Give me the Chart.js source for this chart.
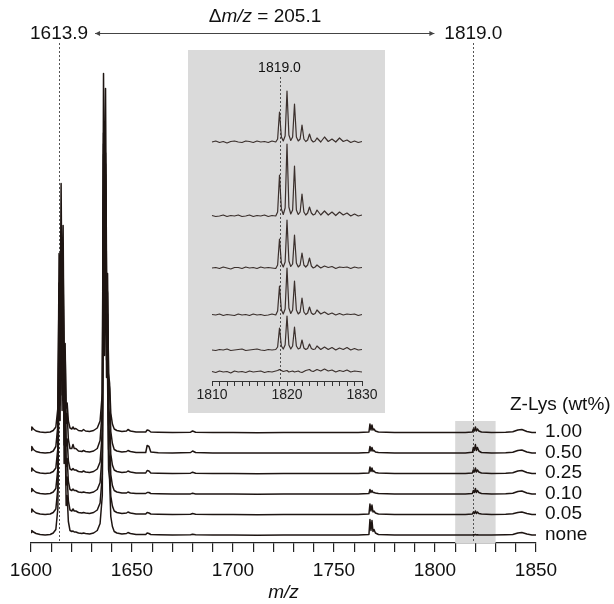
<!DOCTYPE html>
<html>
<head>
<meta charset="utf-8">
<script src="https://cdn.jsdelivr.net/npm/chart.js@4.4.1/dist/chart.umd.min.js"></script>
<style>
  html, body { margin: 0; padding: 0; background: #fff; }
  #wrap { position: relative; width: 614px; height: 604px; }
  #main { position: absolute; left: 0; top: 0; }
  #inset { position: absolute; left: 188px; top: 50px; background: #dadada; }
</style>
</head>
<body>
<div id="wrap">
  <canvas id="main" width="614" height="604"></canvas>
  <canvas id="inset" width="197" height="363"></canvas>
</div>
<script>
// Data - main spectra (m/z grid, intensities per Z-Lys content)
const mzMain = [
  1600, 1600.4, 1601.2, 1602.5, 1604.5, 1607, 1609.5, 1611, 1612.3, 1613.3,
  1613.9, 1614.4, 1614.9, 1615.4, 1615.9, 1616.4, 1616.9, 1617.4, 1617.9, 1618.5,
  1619.3, 1620.2, 1620.8, 1621.4, 1622.2, 1623.5, 1625.2, 1626, 1627, 1629,
  1631, 1632.8, 1634.2, 1635.3, 1635.9, 1636.4, 1636.9, 1637.4, 1637.9, 1638.4,
  1638.9, 1639.5, 1640.3, 1641.2, 1642.5, 1645, 1647.3, 1648, 1649.2, 1652,
  1656.8, 1657.5, 1658.4, 1659.3, 1663, 1670, 1679, 1680, 1681.5, 1690,
  1700, 1712, 1725, 1738, 1752, 1762, 1767.3, 1767.8, 1768.3, 1768.8,
  1769.3, 1769.8, 1770.5, 1772, 1780, 1792, 1805, 1815, 1818.5, 1819,
  1819.5, 1820, 1820.5, 1821, 1821.7, 1823, 1828, 1835, 1838.5, 1841,
  1843, 1845.5, 1848, 1850,
];
const zLys100 = [
  3, 6, 4, 2, 1, 0.5, 1, 2.5, 6, 25,
  150, 90, 200, 100, 170, 60, 80, 25, 30, 12,
  5, 4, 6, 4, 4.5, 2.5, 2, 3.5, 2, 1.5,
  2.5, 5, 12, 40, 300, 170, 280, 150, 140, 60,
  50, 20, 9, 4, 2.5, 1.5, 2, 3.5, 2, 1,
  1, 3, 2.5, 1, 0.8, 0.5, 0.8, 2, 0.8, 0.5,
  0.6, 0.3, 0.5, 0.4, 0.5, 0.6, 1, 9, 3, 8,
  3, 4, 2, 1, 0.5, 0.4, 0.6, 0.5, 1, 4,
  2, 6, 2, 4, 2, 1, 0.6, 0.8, 1.2, 3,
  3.5, 1.5, 0.6, 0.5,
];
const zLys050 = [
  3, 7, 4, 2, 1, 0.5, 1, 2.5, 7, 28,
  200, 120, 270, 130, 228, 75, 110, 30, 40, 14,
  5, 5, 9, 5, 5, 2.5, 2, 3, 2, 1.5,
  2.5, 5, 13, 45, 380, 210, 365, 180, 180, 75,
  65, 22, 10, 4, 2.5, 1.5, 2, 3, 2, 1,
  1, 8, 7, 1.5, 0.8, 0.5, 1, 2.5, 1, 0.5,
  0.6, 0.4, 0.5, 0.4, 0.6, 0.5, 1, 7, 2.5, 6,
  2.5, 3, 1.5, 1, 0.5, 0.4, 0.6, 0.5, 1.2, 6,
  3, 9, 3, 6, 2.5, 1, 0.6, 0.8, 1.2, 3,
  3.5, 1.5, 0.6, 0.5,
];
const zLys025 = [
  3, 6, 4, 2, 1, 0.5, 1, 2.5, 6, 26,
  165, 100, 230, 110, 200, 65, 95, 28, 35, 13,
  5, 4, 5.5, 4, 4, 2.5, 2, 3, 2, 1.5,
  2.5, 5, 12, 42, 330, 185, 310, 160, 160, 68,
  58, 20, 9, 4, 2.5, 1.5, 2, 3, 2, 1,
  1, 3.5, 3, 1, 0.8, 0.5, 0.8, 1.8, 0.8, 0.5,
  0.6, 0.3, 0.5, 0.4, 0.5, 0.6, 1, 7, 2.5, 6,
  2.5, 3, 1.5, 1, 0.5, 0.4, 0.6, 0.5, 1, 4,
  2, 6, 2, 4, 2, 1, 0.6, 0.8, 1.2, 3,
  3.5, 1.5, 0.6, 0.5,
];
const zLys010 = [
  3, 6, 4, 2, 1, 0.5, 1, 2.5, 6, 26,
  175, 105, 240, 115, 210, 68, 100, 28, 36, 13,
  5, 4, 5.5, 4, 4, 2.5, 2, 2.5, 2, 1.5,
  2.5, 5, 12, 42, 340, 190, 320, 165, 165, 70,
  60, 20, 9, 4, 2.5, 1.5, 1.5, 2.5, 1.5, 1,
  1, 2, 2, 1, 0.8, 0.5, 0.6, 1.2, 0.6, 0.5,
  0.6, 0.3, 0.5, 0.4, 0.5, 0.6, 1, 5, 2, 4,
  2, 2, 1.5, 1, 0.5, 0.4, 0.6, 0.5, 1, 4,
  2, 6, 2, 4, 2, 1, 0.6, 0.8, 1.2, 3,
  3.5, 1.5, 0.6, 0.5,
];
const zLys005 = [
  3, 6, 4, 2, 1, 0.5, 1, 2.5, 6, 27,
  180, 110, 250, 120, 220, 70, 105, 30, 38, 14,
  5, 4, 6, 4, 4, 2.5, 2, 2.5, 2, 1.5,
  2.5, 5, 12, 40, 320, 180, 300, 155, 155, 66,
  55, 19, 9, 4, 2.5, 1.5, 2, 3, 2, 1,
  1, 2.5, 2, 1, 0.8, 0.5, 0.8, 1.5, 0.8, 0.5,
  0.6, 0.3, 0.5, 0.4, 0.5, 0.6, 1, 11, 4, 10,
  3, 4, 2, 1, 0.5, 0.4, 0.6, 0.5, 1, 3,
  1.5, 4, 1.5, 3, 1.5, 1, 0.6, 0.8, 1.2, 2.5,
  3, 1.5, 0.6, 0.5,
];
const zLysNone = [
  3, 5, 3.5, 2, 1, 0.5, 1, 2.5, 6, 27,
  190, 115, 260, 125, 228, 72, 108, 30, 40, 14,
  5, 4, 4.5, 3.5, 3.5, 2.5, 2, 2.5, 2, 1.5,
  2.5, 5, 12, 40, 323, 180, 305, 158, 158, 66,
  56, 19, 9, 4, 2.5, 1.5, 2, 3, 2, 1,
  1, 2.5, 2, 1, 0.8, 0.5, 0.8, 1.2, 0.8, 0.5,
  0.6, 0.3, 0.5, 0.4, 0.5, 0.6, 1, 16, 5, 15,
  4, 6, 2.5, 1, 0.5, 0.4, 0.6, 0.5, 0.6, 0.8,
  0.5, 1, 0.5, 0.8, 0.5, 0.6, 0.5, 0.8, 1, 2.5,
  3, 1.5, 0.6, 0.5,
];

// Data - inset, zoom on 1810-1830
const mzInset = [
  1810, 1810.5, 1811, 1811.5, 1812, 1812.5, 1813, 1813.5, 1814, 1814.5,
  1815, 1815.5, 1816, 1816.5, 1817, 1817.5, 1818, 1818.5,
  1818.75, 1819, 1819.25, 1819.5, 1819.75, 1820, 1820.25, 1820.5, 1820.75, 1821,
  1821.25, 1821.5, 1821.75, 1822, 1822.25, 1822.5, 1822.75, 1823, 1823.25, 1823.5,
  1823.75, 1824,
  1824.5, 1825, 1825.5, 1826, 1826.5, 1827, 1827.5, 1828, 1828.5, 1829, 1829.5, 1830,
];
const inset100 = [
  0, 1, -0.5, 0.5, -1, 0.5, 1, 0, -0.5, 1, 0.5, -0.5, 1, 0, 0.5, -0.5, 1, 0,
  3, 30, 5, 1, 6, 51, 7, 1.5, 5, 38, 5, 1, 3, 17, 3, 0.5, 2, 8, 2, 0, 1, 4,
  0, 5, 0.5, 3, 0, 4, 0.5, 2, -0.5, 1, -0.5, 0.5,
];
const inset050 = [
  0.5, -0.5, 0, 1, -0.5, 0.5, 0, 1, -0.5, 0, 1, -0.5, 0.5, 0, 1, -0.5, 0.5, 0,
  4, 41, 7, 1.5, 8, 72, 9, 2, 6, 50, 6, 1.5, 4, 22, 4, 1, 3, 9, 3, 1, 2, 6,
  1, 5, 1, 4, 0.5, 4, 1, 3, 0, 2, 0, 1,
];
const inset025 = [
  0, 0.5, -0.5, 1, 0, -1, 0.5, 0.5, -0.5, 1, 0, 0.5, -0.5, 1, 0, 0.5, 0, -0.5,
  3, 29, 5, 1, 6, 48, 7, 1.5, 4, 33, 5, 1, 3, 15, 3, 1, 3, 10, 2, 0, 1, 3,
  0, 2, 0.5, 1.5, -0.5, 1, 0.5, 1, -0.5, 1, 0, 0.5,
];
const inset010 = [
  0.5, 0, 1, -0.5, 0.5, 0, -0.5, 1, 0, 0.5, -0.5, 1, 0, 0.5, -0.5, 0, 1, 0,
  4, 29, 5, 1, 6, 47, 7, 1.5, 5, 34, 5, 1, 3, 17, 3, 0.5, 2, 8, 2, 0.5, 1.5, 5,
  1, 3, 0.5, 2, 0, 1.5, 0, 1, 0.5, 1, -0.5, 0.5,
];
const inset005 = [
  0, -0.5, 0.5, 0, 1, -0.5, 0, 0.5, 1, -0.5, 0, 0.5, 1, 0, -0.5, 0.5, 0, 0.5,
  3, 22, 4, 1, 5, 34, 5, 1, 4, 23, 4, 1, 2, 10, 2, 0.5, 1.5, 6, 1.5, 0.5, 1, 4,
  0.5, 3, 0.5, 2.5, 0, 2, 0.5, 2.5, 0, 1.5, 0, 0.5,
];
const insetNone = [
  0.5, -0.5, 1, 0, 0.5, -1, 1, 0, 0.5, -0.5, 1, 0, 0.5, 1, -0.5, 0.5, 0, 1,
  1.5, 2.5, 1.5, 0.5, 1, 1.5, 0, 0.5, 1, 0, 0.5, 1, 0, -0.5, 0.5, 1.5, 2, 2.5, 1, 0.5, 1.5, 2.5,
  1, 3, 1, 2, 0, 1.5, 0.5, 2, 0, 1, 0.5, 0,
];

const concLabels = ["1.00", "0.50", "0.25", "0.10", "0.05", "none"];
const mainSeries = [zLys100, zLys050, zLys025, zLys010, zLys005, zLysNone];
const insetSeries = [inset100, inset050, inset025, inset010, inset005, insetNone];
const peakMz = [1613.9, 1819.0];
const peakLabels = ["1613.9", "1819.0"];
const deltaParts = ["\u0394", "m/z", " = 205.1"];
const bandRange = [1810, 1830];

// vertical stacking of the traces (plot units = px)
const mainOffsets = [110, 89.5, 69, 48.5, 28, 7.5];
const insetOffsets = [239, 165, 113, 66, 31, 9];

const FONT = '"Liberation Sans", Arial, Helvetica, sans-serif';
Chart.defaults.font.family = FONT;
Chart.defaults.color = "#111";

function traceSets(xs, series, offsets, color, width) {
  return series.map((vals, i) => ({
    label: concLabels[i],
    data: vals.map((v, j) => ({ x: xs[j], y: v + offsets[i] })),
    borderColor: color,
    borderWidth: width,
    pointRadius: 0,
    tension: 0,
    borderJoinStyle: "round",
    clip: false,
  }));
}

function dotted(ctx, px, y0, y1) {
  ctx.save();
  ctx.strokeStyle = "#555";
  ctx.lineWidth = 1;
  ctx.setLineDash([2, 2]);
  ctx.beginPath();
  ctx.moveTo(Math.round(px) + 0.5, y0);
  ctx.lineTo(Math.round(px) + 0.5, y1);
  ctx.stroke();
  ctx.restore();
}

function arrowHead(ctx, x, y, dir) {
  ctx.beginPath();
  ctx.moveTo(x, y);
  ctx.lineTo(x - dir * 5, y - 2.5);
  ctx.lineTo(x - dir * 5, y + 2.5);
  ctx.closePath();
  ctx.fill();
}

const mainDecor = {
  id: "mainDecor",
  beforeDatasetsDraw(chart) {
    const { ctx, scales: { x, y } } = chart;
    const x0 = x.getPixelForValue(bandRange[0]);
    const x1 = x.getPixelForValue(bandRange[1]);
    ctx.save();
    ctx.fillStyle = "#d9d9d9";
    ctx.fillRect(x0, 421, x1 - x0, y.bottom - 421);
    ctx.restore();
    peakMz.forEach((m) => dotted(ctx, x.getPixelForValue(m), 43, y.bottom));
  },
  afterDraw(chart) {
    const { ctx, scales: { x, y } } = chart;
    ctx.save();
    ctx.fillStyle = "#111";
    ctx.textBaseline = "middle";

    // Δm/z title
    const fonts = ["19px " + FONT, "italic 19px " + FONT, "19px " + FONT];
    let total = 0;
    deltaParts.forEach((t, i) => { ctx.font = fonts[i]; total += ctx.measureText(t).width; });
    let tx = 265 - total / 2;
    deltaParts.forEach((t, i) => {
      ctx.font = fonts[i];
      ctx.fillText(t, tx, 17);
      tx += ctx.measureText(t).width;
    });

    // peak labels
    ctx.font = "19px " + FONT;
    ctx.textAlign = "center";
    const p0 = x.getPixelForValue(peakMz[0]);
    const p1 = x.getPixelForValue(peakMz[1]);
    ctx.fillText(peakLabels[0], p0, 34);
    ctx.fillText(peakLabels[1], p1, 34);

    // double arrow
    const a0 = p0 + 36, a1 = p1 - 39;
    ctx.strokeStyle = "#444";
    ctx.fillStyle = "#444";
    ctx.lineWidth = 1;
    ctx.beginPath();
    ctx.moveTo(a0, 33.5);
    ctx.lineTo(a1, 33.5);
    ctx.stroke();
    arrowHead(ctx, a0, 33.5, -1);
    arrowHead(ctx, a1, 33.5, 1);

    // series labels
    ctx.fillStyle = "#111";
    ctx.textAlign = "left";
    ctx.fillText("Z-Lys (wt%)", 510, 405);
    concLabels.forEach((lab, i) => {
      ctx.fillText(lab, 545, y.getPixelForValue(mainOffsets[i]) - 1);
    });
    ctx.restore();
  },
};

new Chart(document.getElementById("main"), {
  type: "line",
  data: { datasets: traceSets(mzMain, mainSeries, mainOffsets, "#1e1512", 1.5) },
  options: {
    responsive: false,
    animation: false,
    devicePixelRatio: 1,
    events: [],
    layout: { padding: { left: 31, right: 78, top: 43, bottom: 0 } },
    plugins: { legend: { display: false }, tooltip: { enabled: false } },
    scales: {
      x: {
        type: "linear",
        min: 1600,
        max: 1850,
        afterFit: (s) => { s.height = 61; },
        border: { color: "#222", width: 1.2 },
        grid: { drawOnChartArea: false, tickLength: 9, color: "#222", lineWidth: 1.2 },
        ticks: {
          stepSize: 10,
          autoSkip: false,
          maxRotation: 0,
          padding: 7,
          color: "#111",
          font: { size: 19 },
          callback: (v) => (v % 50 === 0 ? String(v) : ""),
        },
        title: {
          display: true,
          text: "m/z",
          color: "#111",
          padding: 0,
          font: { size: 19, style: "italic" },
        },
      },
      y: { display: false, min: 0, max: 500 },
    },
  },
  plugins: [mainDecor],
});

// Inset
const insetDecor = {
  id: "insetDecor",
  beforeDatasetsDraw(chart) {
    const { ctx, scales: { x, y } } = chart;
    dotted(ctx, x.getPixelForValue(peakMz[1]), 27, y.bottom);
  },
  afterDraw(chart) {
    const { ctx, scales: { x } } = chart;
    ctx.save();
    ctx.fillStyle = "#111";
    ctx.font = "14px " + FONT;
    ctx.textAlign = "center";
    ctx.textBaseline = "middle";
    ctx.fillText(peakLabels[1], x.getPixelForValue(peakMz[1]), 18);
    ctx.restore();
  },
};

new Chart(document.getElementById("inset"), {
  type: "line",
  data: { datasets: traceSets(mzInset, insetSeries, insetOffsets, "#3b302d", 1.2) },
  options: {
    responsive: false,
    animation: false,
    devicePixelRatio: 1,
    events: [],
    layout: { padding: { left: 24, right: 23, top: 0, bottom: 0 } },
    plugins: { legend: { display: false }, tooltip: { enabled: false } },
    scales: {
      x: {
        type: "linear",
        min: 1810,
        max: 1830,
        afterFit: (s) => { s.height = 32; },
        border: { color: "#333", width: 1 },
        grid: { drawOnChartArea: false, tickLength: 5, color: "#333" },
        ticks: {
          stepSize: 1,
          autoSkip: false,
          maxRotation: 0,
          padding: 1,
          color: "#222",
          font: { size: 14 },
          callback: (v) => (v % 10 === 0 ? String(v) : ""),
        },
      },
      y: { display: false, min: 0, max: 331 },
    },
  },
  plugins: [insetDecor],
});
</script>
</body>
</html>
